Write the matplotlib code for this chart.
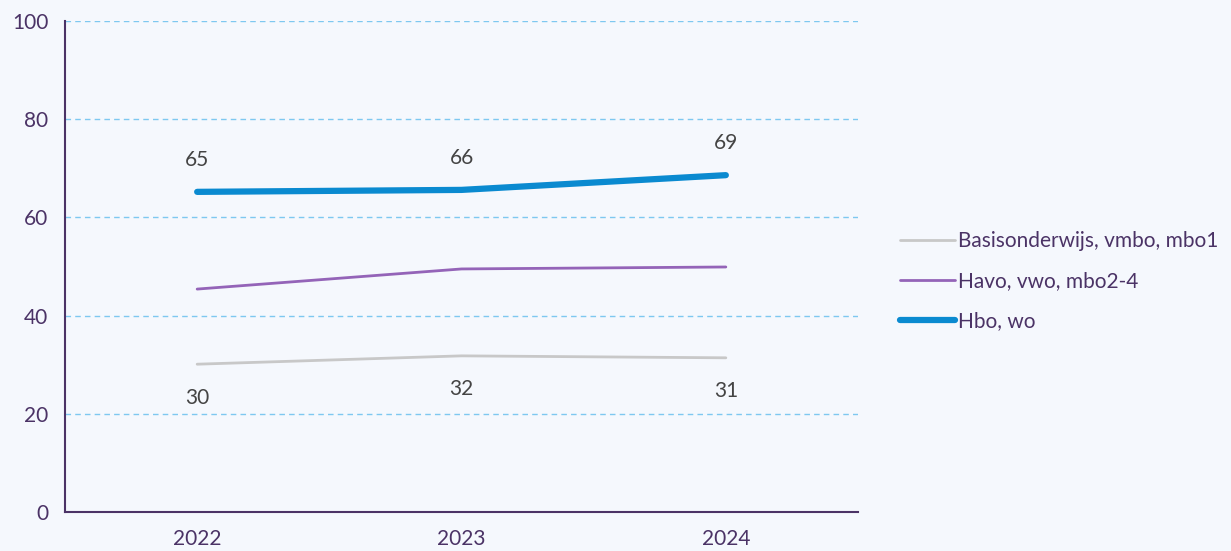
import matplotlib
matplotlib.use("Agg")
import matplotlib.pyplot as plt

years = ["2022", "2023", "2024"]
basis = [30.1, 31.8, 31.4]
havo = [45.4, 49.5, 49.9]
hbo = [65.2, 65.6, 68.6]
basis_labels = ["30", "32", "31"]
hbo_labels = ["65", "66", "69"]
series_names = ["Basisonderwijs, vmbo, mbo1", "Havo, vwo, mbo2-4", "Hbo, wo"]
yticks = [0, 20, 40, 60, 80, 100]

plt.rcParams['font.family'] = ['Lato', 'DejaVu Sans']
bg = "#F5F8FD"
purple_text = "#4B3366"

fig = plt.figure(figsize=(12.31, 5.51), dpi=100, facecolor=bg)
ax = fig.add_axes([0.0528, 0.0708, 0.6442, 0.8911], facecolor=bg)

x = list(range(len(years)))
ax.plot(x, basis, color="#C8C8C8", lw=2, label=series_names[0], solid_capstyle="round")
ax.plot(x, havo, color="#9464B8", lw=2, label=series_names[1], solid_capstyle="round")
ax.plot(x, hbo, color="#0A8AD0", lw=4.5, label=series_names[2], solid_capstyle="round")

for xi, v, t in zip(x, hbo, hbo_labels):
    ax.annotate(t, (xi, v), xytext=(0, 23), textcoords="offset points",
                ha="center", va="center", fontsize=15, color="#444444")
for xi, v, t in zip(x, basis, basis_labels):
    ax.annotate(t, (xi, v), xytext=(0, -24), textcoords="offset points",
                ha="center", va="center", fontsize=15, color="#444444")

ax.set_xlim(-0.5, 2.5)
ax.set_ylim(0, 100)
ax.set_xticks(x)
ax.set_xticklabels(years)
ax.set_yticks(yticks)
ax.tick_params(axis="both", length=0, labelsize=15, colors=purple_text)
ax.tick_params(axis="x", pad=12)
ax.tick_params(axis="y", pad=12)
ax.grid(axis="y", color="#7EC8F0", linestyle=(0, (4, 3)), lw=1)
ax.set_axisbelow(True)
for s in ["top", "right"]:
    ax.spines[s].set_visible(False)
for s in ["left", "bottom"]:
    ax.spines[s].set_color(purple_text)
    ax.spines[s].set_linewidth(1.5)

handles, labels = ax.get_legend_handles_labels()
leg = fig.legend(handles, labels, loc="center left", bbox_to_anchor=(0.731, 0.49),
                 frameon=False, fontsize=15, handlelength=2.65, handletextpad=0.15,
                 labelspacing=0.95, borderpad=0, borderaxespad=0,
                 labelcolor=purple_text)

fig.savefig("out.png", dpi=100, facecolor=bg)
